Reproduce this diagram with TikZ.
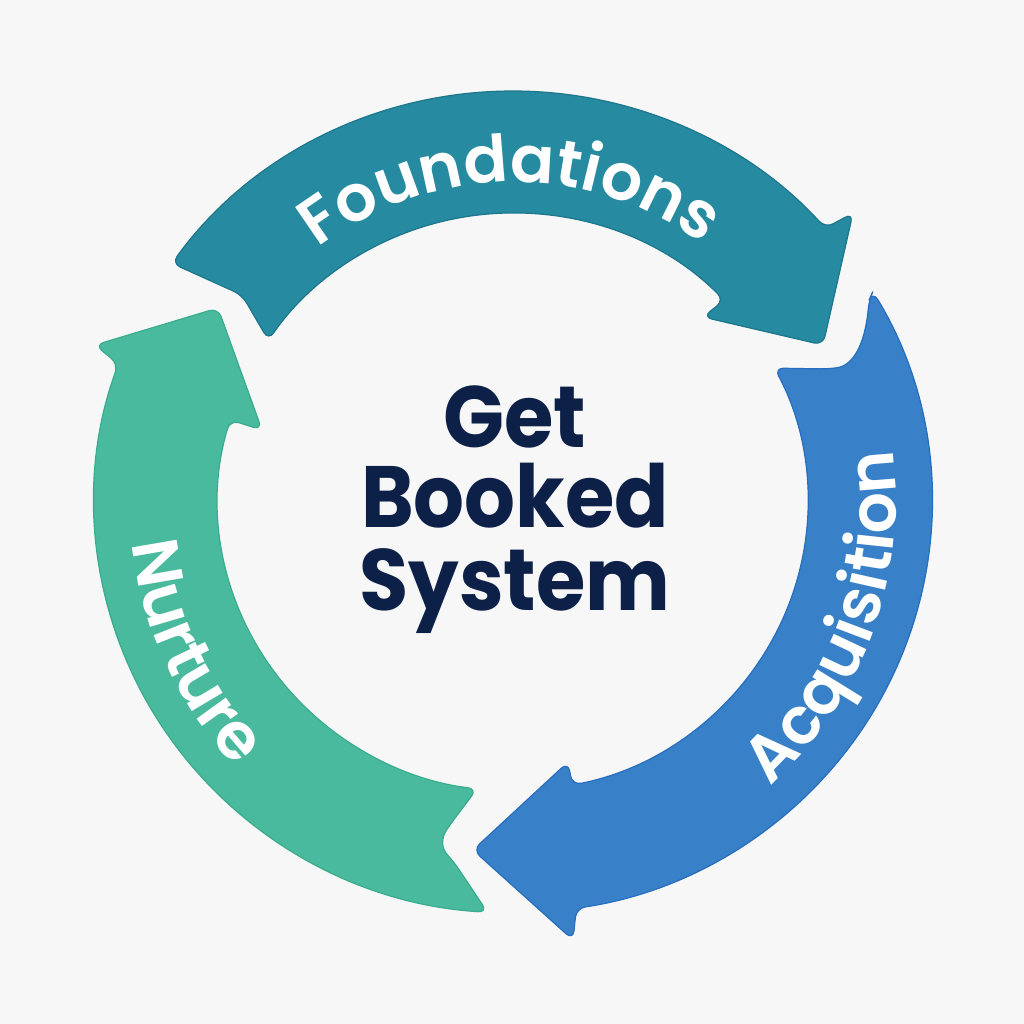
\documentclass[tikz,border=0pt]{standalone}
\usepackage{fontspec}
\usepackage{graphicx}
\newfontfamily\popsb{Poppins}[UprightFont=* SemiBold, BoldFont=* Bold]
\usetikzlibrary{calc,decorations.text}
\definecolor{bgc}{RGB}{247,247,247}
\definecolor{tealc}{RGB}{38,138,160}
\definecolor{tealdk}{RGB}{28,118,140}
\definecolor{bluec}{RGB}{56,128,200}
\definecolor{bluedk}{RGB}{40,110,190}
\definecolor{greenc}{RGB}{74,186,158}
\definecolor{greendk}{RGB}{58,172,142}
\definecolor{navy}{RGB}{13,32,72}
\newcommand\labfont{\popsb\fontsize{65}{65}\selectfont}
\newcommand\ctext[1]{\scalebox{0.92}[1]{#1}}
\begin{document}
\begin{tikzpicture}[x=1pt,y=1pt,
  arrowshape/.style={line width=1.2pt, rounded corners=9pt, line join=round},
  centertext/.style={font=\popsb\bfseries\fontsize{87}{87}\selectfont, text=navy, inner sep=0pt, anchor=base},
  arclabel/.style={decorate, decoration={text along path, text align=center, text color=white, text={|\labfont|#1}}}]
\useasboundingbox (0,-1024) rectangle (1024,0);
\fill[bgc] (0,-1024) rectangle (1024,0);
\coordinate (c) at (513,-502);
% Foundations (teal)
\filldraw[arrowshape, fill=tealc, draw=tealdk]
  ($(c)+(144.5:419 and 411)$) arc[start angle=144.5, end angle=41.8, x radius=419, y radius=411]
  -- (853,-213) -- (823,-345) -- (703,-317)
  -- ($(c)+(44.3:295 and 289)$) arc[start angle=44.3, end angle=146, x radius=295, y radius=289]
  -- (242,-295) -- cycle;
% Acquisition (blue)
\filldraw[arrowshape, fill=bluec, draw=bluedk]
  ($(c)+(30.8:419 and 411)$) arc[start angle=30.8, end angle=-81.3, x radius=419, y radius=411]
  -- (573,-940) -- (473,-850) -- (568,-762)
  -- ($(c)+(-78.4:295 and 289)$) arc[start angle=-78.4, end angle=27.6, x radius=295, y radius=289]
  -- (828,-369) .. controls (857,-365) and (866,-335) .. (869,-300) -- cycle;
% Nurture (green)
\filldraw[arrowshape, fill=greenc, draw=greendk]
  ($(c)+(266.5:419 and 411)$) arc[start angle=266.5, end angle=160.4, x radius=419, y radius=411]
  -- (95,-345) -- (218,-308) -- (262,-430)
  -- ($(c)+(163.5:295 and 289)$) arc[start angle=163.5, end angle=263, x radius=295, y radius=289]
  -- (452,-822) .. controls (441,-838) and (441,-848) .. (454,-862) -- cycle;
% curved labels
\path[arclabel=Foundations] ($(c)+(150.5:320)$) arc[start angle=150.5, end angle=30.5, radius=320];
\path[arclabel=Acquisition] ($(c)+(-80:383)$) arc[start angle=-80, end angle=40, radius=383];
\path[arclabel=Nurture] ($(c)+(145:383)$) arc[start angle=145, end angle=265, radius=383];
% centre
\node[centertext] (get) at (515,-447) {\ctext{Get}};
\node[centertext] (booked) at (515,-527) {\ctext{Booked}};
\node[centertext] (system) at (515,-610) {\ctext{System}};
\end{tikzpicture}
\end{document}
